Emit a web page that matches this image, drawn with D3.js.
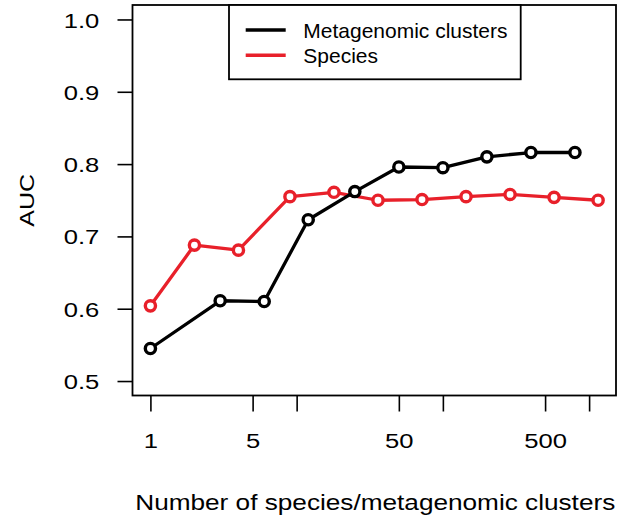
<!DOCTYPE html>
<html>
<head>
    <script src="https://cdn.jsdelivr.net/npm/d3@7"></script>
    <style>
        body { margin: 0; background: #fff; }
        text { font-family: "Liberation Sans", Arial, Helvetica, sans-serif; fill: #000; }
    </style>
</head>
<body>
    <svg width="621" height="523"></svg>
    <script>
        // values
        const clusterN = [1, 3, 6, 12, 25, 50, 100, 200, 400, 800];
        const clusterAUC = [0.545, 0.611, 0.610, 0.723, 0.762, 0.796, 0.795, 0.810, 0.816, 0.816];
        const speciesN = [1, 2, 4, 9, 18, 36, 72, 144, 288, 576, 1152];
        const speciesAUC = [0.604, 0.688, 0.681, 0.755, 0.761, 0.750, 0.751, 0.755, 0.758, 0.754, 0.750];

        const xTicks = [1, 5, 10, 50, 100, 500, 1000];
        const xTickLabels = ["1", "5", "", "50", "", "500", ""];
        const yTicks = [0.5, 0.6, 0.7, 0.8, 0.9, 1.0];
        const yTickLabels = ["0.5", "0.6", "0.7", "0.8", "0.9", "1.0"];

        const seriesNames = ["Metagenomic clusters", "Species"];
        const seriesColors = ["#000000", "#e8202a"];

        const svg = d3.select("svg");
        const plot = { left: 132.5, right: 616, top: 5, bottom: 395.5 };

        // R style 4% padding on the log x range
        const lx = d3.extent(clusterN.concat(speciesN)).map(Math.log10);
        const pad = (lx[1] - lx[0]) * 0.04;
        const x = d3.scaleLog()
            .domain([Math.pow(10, lx[0] - pad), Math.pow(10, lx[1] + pad)])
            .range([plot.left, plot.right]);
        const y = d3.scaleLinear()
            .domain([0.48, 1.02])
            .range([plot.bottom, plot.top]);

        // y axis
        const yAxis = svg.append("g")
            .attr("transform", `translate(${plot.left},0)`)
            .call(d3.axisLeft(y).tickValues(yTicks).tickSize(15)
                .tickFormat((d, i) => yTickLabels[i]));
        yAxis.select(".domain").remove();
        yAxis.selectAll("line").attr("stroke", "#000").attr("stroke-width", 1.6);
        yAxis.selectAll("text")
            .attr("font-size", 21)
            .attr("text-anchor", "end")
            .attr("x", -33.2 / 1.22)
            .attr("dy", "0.36em")
            .attr("transform", "scale(1.22,1)");

        // x axis
        const xAxis = svg.append("g")
            .attr("transform", `translate(0,${plot.bottom})`)
            .call(d3.axisBottom(x).tickValues(xTicks).tickSize(16)
                .tickFormat((d, i) => xTickLabels[i]));
        xAxis.select(".domain").remove();
        xAxis.selectAll("line").attr("stroke", "#000").attr("stroke-width", 1.6);
        xAxis.selectAll("text")
            .attr("font-size", 21)
            .attr("y", 52.8)
            .attr("dy", 0)
            .attr("transform", "scale(1.22,1)");

        // plot box
        svg.append("rect")
            .attr("x", plot.left).attr("y", plot.top)
            .attr("width", plot.right - plot.left)
            .attr("height", plot.bottom - plot.top)
            .attr("fill", "none").attr("stroke", "#000").attr("stroke-width", 1.8);

        // axis titles
        svg.append("text")
            .attr("transform", `translate(${(plot.left + plot.right) / 2 + 1},510) scale(1.19,1)`)
            .attr("text-anchor", "middle")
            .attr("font-size", 22)
            .text("Number of species/metagenomic clusters");

        svg.append("text")
            .attr("transform", `translate(34,${(plot.top + plot.bottom) / 2}) rotate(-90) scale(1.22,1)`)
            .attr("text-anchor", "middle")
            .attr("font-size", 20.5)
            .text("AUC");

        // series: species first, clusters on top
        const series = [
            { n: speciesN, v: speciesAUC, color: seriesColors[1] },
            { n: clusterN, v: clusterAUC, color: seriesColors[0] }
        ];
        const line = d3.line().x(d => x(d[0])).y(d => y(d[1]));

        series.forEach(s => {
            const pts = s.n.map((d, i) => [d, s.v[i]]);
            svg.append("path")
                .datum(pts)
                .attr("d", line)
                .attr("fill", "none")
                .attr("stroke", s.color)
                .attr("stroke-width", 3.3)
                .attr("stroke-linejoin", "round");
            svg.append("g").selectAll("circle")
                .data(pts)
                .enter().append("circle")
                .attr("cx", d => x(d[0]))
                .attr("cy", d => y(d[1]))
                .attr("r", 5.1)
                .attr("fill", "#fff")
                .attr("stroke", s.color)
                .attr("stroke-width", 3.4);
        });

        // legend
        const lg = svg.append("g");
        lg.append("rect")
            .attr("x", 229).attr("y", plot.top)
            .attr("width", 291.7).attr("height", 74.3)
            .attr("fill", "#fff").attr("stroke", "#000").attr("stroke-width", 1.8);
        seriesNames.forEach((name, i) => {
            const ly = 30 + i * 25.3;
            lg.append("line")
                .attr("x1", 245.7).attr("x2", 285.7)
                .attr("y1", ly).attr("y2", ly)
                .attr("stroke", seriesColors[i]).attr("stroke-width", 3.4);
            lg.append("text")
                .attr("transform", `translate(303.3,${ly + 7.5}) scale(1.05,1)`)
                .attr("font-size", 20)
                .text(name);
        });
    </script>
</body>
</html>
